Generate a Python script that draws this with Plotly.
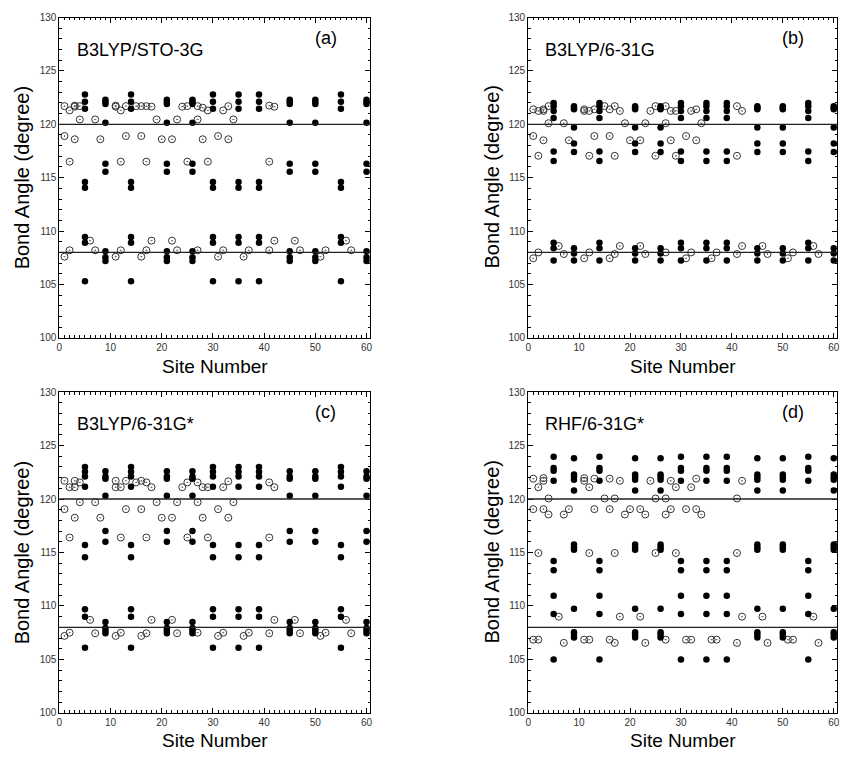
import plotly.graph_objects as go

# ---------------- data ----------------
X_RANGE = [0, 60.7]
Y_RANGE = [100, 130]
REF_LINES = [120, 108]
X_TICKS = [0, 10, 20, 30, 40, 50, 60]
Y_TICKS = [100, 105, 110, 115, 120, 125, 130]

PANEL_METHODS = ["B3LYP/STO-3G", "B3LYP/6-31G", "B3LYP/6-31G*", "RHF/6-31G*"]
PANEL_TAGS = ["(a)", "(b)", "(c)", "(d)"]

# sites drawn with filled circles (two groups with the same angle pattern)
SITES_TYPE1 = [5, 14, 30, 35, 39, 55]
SITES_TYPE2 = [9, 21, 26, 45, 50, 60]

A_TYPE1 = [122.8, 122.1, 121.45, 114.6, 114.05, 109.45, 108.9, 105.3]
A_TYPE2 = [122.3, 122.1, 121.9, 120.15, 116.3, 115.55, 108.1, 107.55, 107.2]
B_TYPE1 = [122.0, 121.7, 121.25, 120.6, 117.45, 116.55, 108.9, 108.4, 107.25]
B_TYPE2 = [121.7, 121.55, 121.4, 119.7, 118.2, 117.4, 108.4, 107.9, 107.25]
C_TYPE1 = [123.0, 122.55, 122.1, 121.15, 115.7, 114.55, 109.7, 109.0, 106.1]
C_TYPE2 = [122.6, 122.1, 121.9, 120.3, 117.0, 116.0, 108.5, 107.95, 107.7, 107.45]
D_TYPE1 = [123.95, 122.9, 122.65, 121.7, 114.2, 113.35, 110.95, 109.25, 105.0]
D_TYPE2 = [123.8, 122.3, 122.05, 121.8, 120.8, 115.75, 115.5, 115.25, 109.75,
           107.55, 107.3, 107.05]

# sites drawn with open (dotted) circles
OPEN_SITES = [1, 1, 1, 2, 2, 2, 3, 3, 3, 4, 4, 6, 7, 7, 8, 11, 11, 11, 12, 12, 12,
              13, 13, 15, 16, 16, 16, 17, 17, 17, 18, 18, 19, 20, 22, 22, 23, 23,
              24, 25, 25, 27, 27, 27, 28, 28, 29, 29, 31, 31, 32, 32, 33, 33, 34,
              36, 37, 41, 41, 41, 42, 42, 46, 47, 51, 52, 56, 57]

A_OPEN = [121.7, 118.9, 107.6, 121.3, 116.5, 108.2, 121.75, 121.65, 118.6,
          121.7, 120.45, 109.1, 120.45, 108.2, 118.6, 121.75, 121.65, 107.6,
          121.3, 116.5, 108.2, 121.7, 118.9, 121.7, 121.7, 118.9, 107.6,
          121.7, 116.5, 108.2, 121.65, 109.1, 120.45, 118.6, 118.6, 109.1,
          120.45, 108.2, 121.65, 121.7, 116.5, 121.7, 120.45, 108.2, 121.55, 118.6,
          121.3, 116.5, 118.9, 107.6, 121.3, 108.2, 121.7, 118.6, 120.45,
          107.6, 108.2, 121.75, 116.5, 108.2, 121.65, 109.1, 109.1, 108.2,
          107.6, 108.2, 109.1, 108.2]
B_OPEN = [121.4, 118.9, 107.45, 121.25, 117.05, 108.0, 121.4, 121.25, 118.5,
          121.7, 120.1, 108.6, 120.1, 107.85, 118.5, 121.4, 121.25, 107.45,
          121.25, 117.05, 108.0, 121.4, 118.9, 121.7, 121.4, 118.9, 107.45,
          121.7, 117.05, 107.85, 121.25, 108.6, 120.1, 118.5, 118.5, 108.6,
          120.1, 107.85, 121.25, 121.7, 117.05, 121.7, 120.1, 108.0, 121.25, 118.5,
          121.25, 117.05, 118.9, 107.45, 121.25, 108.0, 121.4, 118.5, 120.1,
          107.45, 108.0, 121.7, 117.05, 107.85, 121.25, 108.6, 108.6, 107.85,
          107.45, 108.0, 108.6, 107.85]
C_OPEN = [121.7, 119.05, 107.2, 121.1, 116.4, 107.5, 121.7, 121.1, 118.25,
          121.55, 119.7, 108.7, 119.7, 107.45, 118.25, 121.7, 121.1, 107.2,
          121.1, 116.4, 107.5, 121.7, 119.05, 121.55, 121.7, 119.05, 107.2,
          121.55, 116.4, 107.45, 121.1, 108.7, 119.7, 118.25, 118.25, 108.7,
          119.7, 107.45, 121.1, 121.55, 116.4, 121.55, 119.7, 107.5, 121.1, 118.25,
          121.1, 116.4, 119.05, 107.2, 121.1, 107.5, 121.65, 118.25, 119.7,
          107.2, 107.5, 121.55, 116.4, 107.45, 121.1, 108.7, 108.7, 107.45,
          107.2, 107.5, 108.7, 107.45]
D_OPEN = [121.9, 119.05, 106.85, 121.1, 114.95, 106.85, 121.95, 121.7, 119.05,
          120.05, 118.55, 109.0, 118.55, 106.55, 119.05, 121.95, 121.7, 106.85,
          121.1, 114.95, 106.85, 121.9, 119.05, 120.05, 121.9, 119.05, 106.85,
          120.05, 114.95, 106.55, 121.7, 109.0, 118.55, 119.05, 119.05, 109.0,
          118.55, 106.55, 121.7, 120.05, 114.95, 120.05, 118.55, 106.85, 121.7, 119.05,
          121.1, 114.95, 119.05, 106.85, 121.1, 106.85, 121.9, 119.05, 118.55,
          106.85, 106.85, 120.05, 114.95, 106.55, 121.7, 109.0, 109.0, 106.55,
          106.85, 106.85, 109.0, 106.55]

PANEL_FILLED = [(A_TYPE1, A_TYPE2), (B_TYPE1, B_TYPE2), (C_TYPE1, C_TYPE2), (D_TYPE1, D_TYPE2)]
PANEL_OPEN = [A_OPEN, B_OPEN, C_OPEN, D_OPEN]

# ---------------- layout ----------------
W, H = 841, 762
X_DOMAINS = [[56.7 / W, 369.3 / W], [528.3 / W, 839.3 / W]]
Y_DOMAINS = [[1 - 337.7 / H, 1 - 12.7 / H], [1 - 718.3 / H, 1 - 392.7 / H]]

FONT = "Liberation Sans, Arial, sans-serif"

fig = go.Figure()

for i in range(4):
    col, row = i % 2, i // 2
    xa = "x" if i == 0 else f"x{i+1}"
    ya = "y" if i == 0 else f"y{i+1}"
    t1, t2 = PANEL_FILLED[i]
    fx, fy = [], []
    for s in SITES_TYPE1:
        for v in t1:
            fx.append(s); fy.append(v)
    for s in SITES_TYPE2:
        for v in t2:
            fx.append(s); fy.append(v)
    fig.add_trace(go.Scatter(
        x=OPEN_SITES, y=PANEL_OPEN[i], mode="markers", xaxis=xa, yaxis=ya,
        marker=dict(symbol="circle-open-dot", size=7, color="#333333",
                    line=dict(width=1, color="#333333")),
        showlegend=False))
    fig.add_trace(go.Scatter(
        x=fx, y=fy, mode="markers", xaxis=xa, yaxis=ya,
        marker=dict(symbol="circle", size=6.5, color="black", line=dict(width=0)),
        showlegend=False))

    axis_common = dict(showline=True, linecolor="black", linewidth=1, mirror="allticks",
                       ticks="inside", tickcolor="black", ticklen=5, tickwidth=1,
                       showgrid=False, zeroline=False,
                       tickfont=dict(family=FONT, size=10, color="#333333"))
    xkey = "xaxis" if i == 0 else f"xaxis{i+1}"
    ykey = "yaxis" if i == 0 else f"yaxis{i+1}"
    fig.update_layout(**{
        xkey: dict(domain=X_DOMAINS[col], range=X_RANGE, tickvals=X_TICKS, anchor=ya,
                   minor=dict(dtick=1, tick0=0, ticks="inside", ticklen=2.5,
                              tickcolor="black"),
                   **axis_common),
        ykey: dict(domain=Y_DOMAINS[row], range=Y_RANGE, tickvals=Y_TICKS, anchor=xa,
                   minor=dict(dtick=1, tick0=100, ticks="inside", ticklen=2.5,
                              tickcolor="black"),
                   **axis_common),
    })

    for v in REF_LINES:
        fig.add_shape(type="line", xref=f"{xa} domain", yref=ya, x0=0, x1=1, y0=v, y1=v,
                      line=dict(color="#222222", width=1.3))

    fig.add_annotation(x=3.0, y=127.0, xref=xa, yref=ya, text=PANEL_METHODS[i],
                       showarrow=False, xanchor="left", yanchor="middle",
                       font=dict(family=FONT, size=18, color="black"))
    fig.add_annotation(x=52.0, y=128.1, xref=xa, yref=ya, text=PANEL_TAGS[i],
                       showarrow=False, xanchor="center", yanchor="middle",
                       font=dict(family=FONT, size=18, color="black"))

    ytitle_x = [20 / W, 492 / W][col]
    ytitle_y = [1 - 175 / H, 1 - 555.5 / H][row]
    fig.add_annotation(x=ytitle_x, y=ytitle_y, xref="paper", yref="paper",
                       text="Bond Angle (degree)", textangle=-90, showarrow=False,
                       xanchor="center", yanchor="middle",
                       font=dict(family=FONT, size=20, color="black"))
    xtitle_x = [213 / W, 684 / W][col]
    xtitle_y = [1 - 367 / H, 1 - 746.7 / H][row]
    fig.add_annotation(x=xtitle_x, y=xtitle_y, xref="paper", yref="paper",
                       text="Site Number", showarrow=False,
                       xanchor="center", yanchor="middle",
                       font=dict(family=FONT, size=19, color="black"))

fig.update_layout(width=W, height=H, margin=dict(l=0, r=0, t=0, b=0),
                  paper_bgcolor="white", plot_bgcolor="white", showlegend=False)

fig.write_html("out.html")
